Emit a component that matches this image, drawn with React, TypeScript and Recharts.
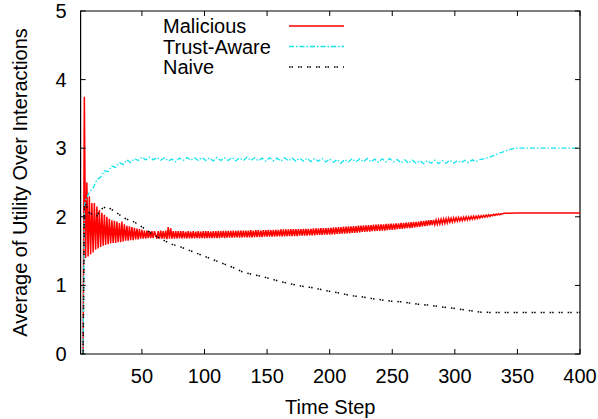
import { LineChart, Line, XAxis, YAxis, ReferenceArea } from "recharts"

type Pt = { t: number; v: number }

// Malicious: every step from t=3 to t=60
const maliciousEarly = [
  0, 3.75, 1.4, 2.5, 1.42, 2.3, 1.45, 2.2, 1.48, 2.2,
  1.52, 2.15, 1.54, 2.1, 1.56, 2.06, 1.58, 2.03, 1.59, 2.0,
  1.6, 1.97, 1.61, 1.95, 1.62, 1.94, 1.62, 1.93, 1.63, 1.91,
  1.63, 1.93, 1.64, 1.89, 1.65, 1.87, 1.65, 1.86, 1.66, 1.85,
  1.66, 1.84, 1.67, 1.83, 1.67, 1.82, 1.68, 1.81, 1.68, 1.8,
  1.68, 1.8, 1.69, 1.79, 1.69, 1.79, 1.69, 1.79,
]
// Malicious: every step from t=62 to t=340
const maliciousLate = [
  1.68, 1.79, 1.68, 1.8, 1.68, 1.79, 1.68, 1.8, 1.675, 1.85, 1.68, 1.83, 1.68, 1.79, 1.68, 1.79, 1.685, 1.79, 1.685, 1.79,
  1.685, 1.79, 1.685, 1.785, 1.685, 1.79, 1.685, 1.785, 1.685, 1.79, 1.685, 1.785, 1.69, 1.79, 1.685, 1.785, 1.69, 1.79, 1.685, 1.79,
  1.69, 1.79, 1.69, 1.785, 1.69, 1.79, 1.69, 1.79, 1.69, 1.795, 1.69, 1.79, 1.695, 1.795, 1.69, 1.795, 1.695, 1.795, 1.695, 1.795,
  1.695, 1.8, 1.695, 1.795, 1.7, 1.8, 1.695, 1.8, 1.7, 1.8, 1.7, 1.8, 1.7, 1.8, 1.7, 1.805, 1.7, 1.8, 1.705, 1.805,
  1.705, 1.805, 1.705, 1.8, 1.705, 1.805, 1.71, 1.805, 1.71, 1.81, 1.71, 1.805, 1.71, 1.81, 1.71, 1.81, 1.715, 1.81, 1.715, 1.815,
  1.715, 1.815, 1.715, 1.815, 1.72, 1.815, 1.72, 1.82, 1.72, 1.82, 1.72, 1.82, 1.72, 1.82, 1.725, 1.82, 1.725, 1.825, 1.725, 1.825,
  1.725, 1.825, 1.73, 1.825, 1.73, 1.83, 1.73, 1.83, 1.735, 1.83, 1.735, 1.835, 1.735, 1.835, 1.74, 1.835, 1.74, 1.84, 1.74, 1.84,
  1.745, 1.845, 1.745, 1.845, 1.75, 1.85, 1.75, 1.85, 1.755, 1.855, 1.755, 1.855, 1.76, 1.86, 1.76, 1.86, 1.765, 1.865, 1.765, 1.865,
  1.77, 1.87, 1.775, 1.87, 1.78, 1.875, 1.78, 1.875, 1.785, 1.88, 1.785, 1.88, 1.79, 1.885, 1.79, 1.885, 1.795, 1.89, 1.795, 1.89,
  1.8, 1.89, 1.8, 1.895, 1.805, 1.895, 1.81, 1.9, 1.81, 1.9, 1.815, 1.905, 1.82, 1.905, 1.825, 1.91, 1.825, 1.91, 1.83, 1.915,
  1.835, 1.92, 1.835, 1.92, 1.84, 1.925, 1.845, 1.925, 1.85, 1.93, 1.855, 1.935, 1.86, 1.94, 1.865, 1.945, 1.87, 1.95, 1.875, 1.95,
  1.88, 1.955, 1.885, 1.955, 1.89, 1.96, 1.895, 1.965, 1.9, 1.97, 1.905, 1.975, 1.91, 1.98, 1.92, 1.98, 1.925, 1.985, 1.93, 1.985,
  1.935, 1.99, 1.94, 1.99, 1.945, 1.995, 1.95, 2.0, 1.955, 2.0, 1.96, 2.005, 1.965, 2.01, 1.97, 2.01, 1.975, 2.015, 1.98, 2.015,
  1.99, 2.02, 1.995, 2.025, 2.0, 2.03, 2.005, 2.03, 2.015, 2.035, 2.02, 2.04, 2.025, 2.045, 2.03, 2.045, 2.04, 2.05, 2.05,
]
const maliciousTail = [[350, 2.055], [400, 2.055]]

// Trust-Aware: start, then every 3rd step from t=5 to t=320, then tail
const trustStart = [[3, 0], [4, 2.15]]
const trustMid = [
  2.24, 2.36, 2.42, 2.54, 2.58, 2.67, 2.66, 2.74, 2.72, 2.79,
  2.76, 2.83, 2.79, 2.85, 2.82, 2.87, 2.83, 2.87, 2.83, 2.865,
  2.825, 2.86, 2.815, 2.84, 2.8, 2.855, 2.82, 2.865, 2.825, 2.86,
  2.82, 2.865, 2.82, 2.86, 2.815, 2.865, 2.82, 2.86, 2.82, 2.865,
  2.815, 2.86, 2.82, 2.87, 2.82, 2.86, 2.815, 2.855, 2.81, 2.86,
  2.815, 2.855, 2.81, 2.86, 2.815, 2.855, 2.81, 2.855, 2.81, 2.855,
  2.805, 2.85, 2.81, 2.85, 2.8, 2.845, 2.795, 2.835, 2.78, 2.835,
  2.8, 2.85, 2.8, 2.845, 2.8, 2.85, 2.8, 2.84, 2.795, 2.845,
  2.8, 2.85, 2.8, 2.835, 2.785, 2.83, 2.78, 2.825, 2.78, 2.82,
  2.775, 2.82, 2.78, 2.825, 2.775, 2.82, 2.78, 2.825, 2.78, 2.82,
  2.785, 2.825, 2.79, 2.83, 2.805, 2.835,
]
const trustTail = [
  [324, 2.85], [328, 2.87], [332, 2.9], [336, 2.93], [340, 2.955], [344, 2.98], [348, 3.0], [400, 3.0],
]

const naive = [
  [3, 0], [4, 2.2], [5, 2.2], [7, 2.07], [10, 2.04], [14, 2.01], [17, 2.11], [22, 2.15],
  [29, 2.07], [36, 1.98], [43, 1.93], [48, 1.88], [54, 1.8], [60, 1.73], [67, 1.66], [74, 1.6],
  [81, 1.56], [88, 1.51], [95, 1.46], [102, 1.41], [109, 1.36], [116, 1.31], [123, 1.26], [130, 1.2],
  [138, 1.16], [146, 1.13], [154, 1.09], [162, 1.05], [169, 1.02], [177, 0.99], [185, 0.97], [193, 0.94],
  [201, 0.91], [209, 0.885], [217, 0.85], [225, 0.835], [233, 0.81], [241, 0.79], [249, 0.77], [257, 0.76],
  [265, 0.74], [273, 0.72], [281, 0.71], [289, 0.685], [297, 0.67], [305, 0.65], [313, 0.63], [321, 0.61],
  [330, 0.605], [400, 0.605],
]

const xTicks = [50, 100, 150, 200, 250, 300, 350, 400]
const yTicks = [0, 1, 2, 3, 4, 5]

const run = (start: number, step: number, values: number[]): Pt[] =>
  values.map((v, i) => ({ t: start + i * step, v }))
const pairs = (list: number[][]): Pt[] => list.map(([t, v]) => ({ t, v }))

const series = [
  {
    name: "Malicious",
    color: "#ff0000",
    dash: undefined as string | undefined,
    width: 1.5,
    data: [...run(3, 1, maliciousEarly), ...run(62, 1, maliciousLate), ...pairs(maliciousTail)],
  },
  {
    name: "Trust-Aware",
    color: "#12e4ee",
    dash: "5 2 1.5 2",
    width: 1.3,
    data: [...pairs(trustStart), ...run(5, 3, trustMid), ...pairs(trustTail)],
  },
  {
    name: "Naive",
    color: "#000000",
    dash: "1.5 1 1.5 5",
    width: 1.5,
    data: pairs(naive),
  },
]

const W = 598
const H = 419
const MARGIN = { top: 11, right: 18, bottom: 0, left: 0 }
const Y_AXIS_W = 80.6
const X_AXIS_H = 65
const PLOT_RIGHT = W - MARGIN.right
const PLOT_TOP = MARGIN.top
const TICK = 5
const FONT = '"Liberation Sans", Arial, Helvetica, sans-serif'

function XTick({ x, y, payload }: any) {
  return (
    <g>
      <line x1={x} x2={x} y1={y} y2={y - TICK} stroke="#000" />
      <line x1={x} x2={x} y1={PLOT_TOP} y2={PLOT_TOP + TICK} stroke="#000" />
      <text x={x} y={y + 29} textAnchor="middle" fontSize={20} fontFamily={FONT} fill="#000">
        {payload.value}
      </text>
    </g>
  )
}

function YTick({ x, y, payload }: any) {
  return (
    <g>
      <line x1={x} x2={x + TICK} y1={y} y2={y} stroke="#000" />
      <line x1={PLOT_RIGHT - TICK} x2={PLOT_RIGHT} y1={y} y2={y} stroke="#000" />
      <text x={x - 14} y={y + 7} textAnchor="end" fontSize={20} fontFamily={FONT} fill="#000">
        {payload.value}
      </text>
    </g>
  )
}

function Key() {
  return (
    <svg
      width={W}
      height={90}
      style={{ position: "absolute", left: 0, top: 0, pointerEvents: "none" }}
    >
      {series.map((s, i) => (
        <g key={s.name}>
          <text x={163} y={33 + i * 20.5} fontSize={20} fontFamily={FONT} fill="#000">
            {s.name}
          </text>
          <line
            x1={289}
            x2={344}
            y1={26 + i * 20.5}
            y2={26 + i * 20.5}
            stroke={s.color}
            strokeWidth={s.width}
            strokeDasharray={s.dash}
          />
        </g>
      ))}
    </svg>
  )
}

export default function App() {
  return (
    <div style={{ position: "absolute", left: 0, top: 0, width: W, height: H, background: "#fff" }}>
      <LineChart width={W} height={H} margin={MARGIN}>
        <XAxis
          dataKey="t"
          type="number"
          domain={[1, 400]}
          ticks={xTicks}
          height={X_AXIS_H}
          tickSize={0}
          tickMargin={0}
          axisLine={false}
          tickLine={false}
          tick={<XTick />}
          allowDataOverflow
          label={{
            content: ({ viewBox }: any) => (
              <text
                x={viewBox.x + viewBox.width / 2}
                y={viewBox.y + 60}
                textAnchor="middle"
                fontSize={20}
                fontFamily={FONT}
                fill="#000"
              >
                Time Step
              </text>
            ),
          }}
        />
        <YAxis
          type="number"
          domain={[0, 5]}
          ticks={yTicks}
          width={Y_AXIS_W}
          tickSize={0}
          tickMargin={0}
          axisLine={false}
          tickLine={false}
          tick={<YTick />}
          allowDataOverflow
          label={{
            content: ({ viewBox }: any) => {
              const cy = viewBox.y + viewBox.height / 2
              return (
                <text
                  x={27}
                  y={cy}
                  transform={`rotate(-90, 27, ${cy})`}
                  textAnchor="middle"
                  fontSize={20}
                  fontFamily={FONT}
                  fill="#000"
                >
                  Average of Utility Over Interactions
                </text>
              )
            },
          }}
        />
        <ReferenceArea x1={1} x2={400} y1={0} y2={5} fill="none" stroke="#000" strokeWidth={1.2} ifOverflow="visible" />
        {series.map((s) => (
          <Line
            key={s.name}
            data={s.data}
            dataKey="v"
            type="linear"
            stroke={s.color}
            strokeWidth={s.width}
            strokeDasharray={s.dash}
            dot={false}
            activeDot={false}
            isAnimationActive={false}
          />
        ))}
      </LineChart>
      <Key />
    </div>
  )
}
